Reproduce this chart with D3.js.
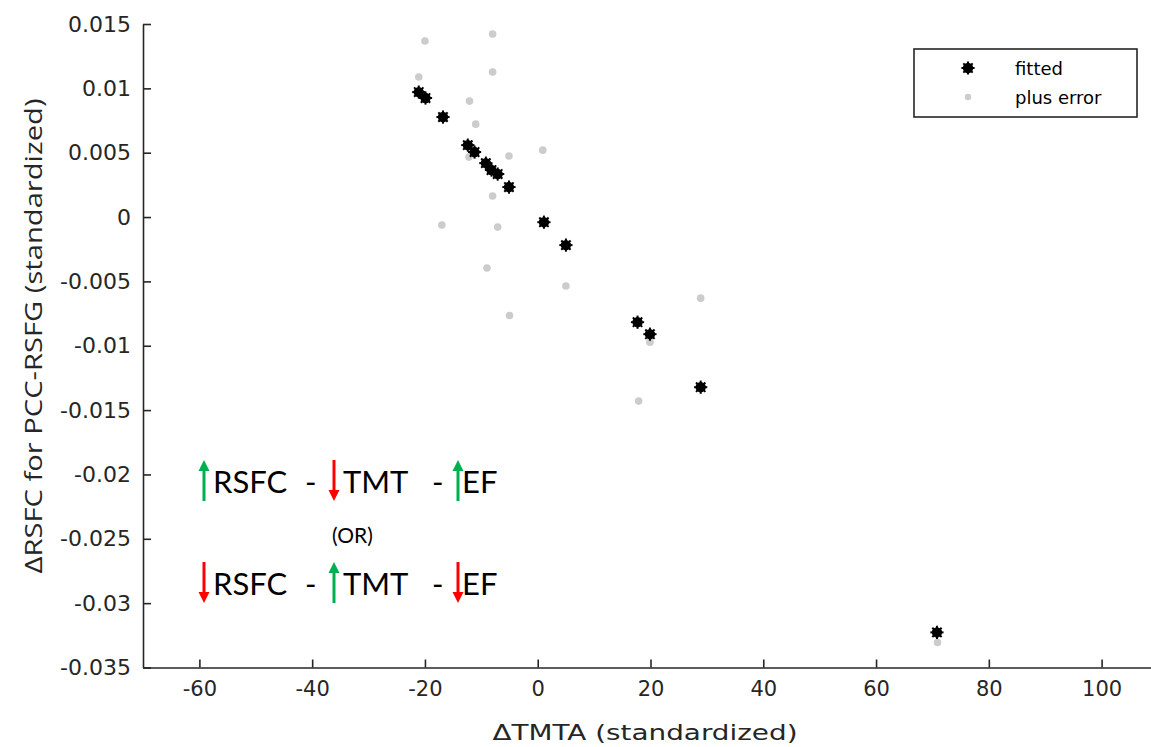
<!DOCTYPE html>
<html>
<head>
<meta charset="utf-8">
<script src="https://cdnjs.cloudflare.com/ajax/libs/d3/7.8.5/d3.min.js"></script>
<style>
  body { margin: 0; background: #fff; }
  svg { display: block; }
</style>
</head>
<body>
<div id="chart"></div>
<script>
// values
var fittedX = [-21.1, -19.9, -16.8, -12.4, -11.2, -9.2, -8.2, -7.1, -5.1, 1.1, 5.0, 17.7, 19.9, 28.9, 70.8];
var fittedY = [0.00971, 0.00925, 0.00777, 0.00559, 0.00505, 0.00419, 0.00365, 0.00334, 0.00233, -0.00040, -0.00218, -0.00817, -0.00910, -0.01322, -0.03227];
var errorX = [-21.1, -20.0, -12.1, -11.0, -12.2, -8.0, -8.0, -5.1, 0.9, -8.0, -17.0, -7.1, -9.0, 5.0, -5.0, 28.9, 19.9, 17.9, 70.9];
var errorY = [0.01088, 0.01368, 0.00901, 0.00722, 0.00466, 0.01422, 0.01127, 0.00474, 0.00520, 0.00163, -0.00062, -0.00078, -0.00396, -0.00536, -0.00765, -0.00630, -0.00972, -0.01430, -0.03306];
var xTicks = [-60, -40, -20, 0, 20, 40, 60, 80, 100];
var yTicks = [0.015, 0.01, 0.005, 0, -0.005, -0.01, -0.015, -0.02, -0.025, -0.03, -0.035];
var yTickLabels = ["0.015", "0.01", "0.005", "0", "-0.005", "-0.01", "-0.015", "-0.02", "-0.025", "-0.03", "-0.035"];
var legendLabels = ["fitted", "plus error"];

var W = 1151, H = 747;
var axisColor = "#262626";
var GREEN = "#00b050", RED = "#ff0000";

var svg = d3.select("#chart").append("svg")
    .attr("width", W)
    .attr("height", H);

svg.append("rect").attr("width", W).attr("height", H).attr("fill", "#fff");

let x = d3.scaleLinear()
    .domain([-70, 110])
    .range([143, 1158]);

let y = d3.scaleLinear()
    .domain([-0.035, 0.015])
    .range([667.5, 24]);

// points
var fitted = fittedX.map((d, i) => [d, fittedY[i]]);
var errors = errorX.map((d, i) => [d, errorY[i]]);

svg.append("g")
    .selectAll("circle")
    .data(errors)
    .join("circle")
    .attr("cx", d => x(d[0]))
    .attr("cy", d => y(d[1]))
    .attr("r", 3.8)
    .attr("fill", "#cccccc");

// black star-ish marker: disc + spokes
function starMarker(g){
    g.append("circle").attr("r", 5.2).attr("fill", "#000");
    for (var k = 0; k < 8; k++) {
        var a = k * Math.PI / 4;
        g.append("line")
            .attr("x1", 0).attr("y1", 0)
            .attr("x2", 6.6 * Math.cos(a)).attr("y2", 6.6 * Math.sin(a))
            .attr("stroke", "#000")
            .attr("stroke-width", 2);
    }
}

svg.append("g")
    .selectAll("g")
    .data(fitted)
    .join("g")
    .attr("transform", d => "translate(" + x(d[0]) + "," + y(d[1]) + ")")
    .each(function(){ starMarker(d3.select(this)); });

// axes (MATLAB style: ticks inside)
var xAxis = svg.append("g")
    .attr("transform", "translate(0," + y(-0.035) + ")")
    .call(d3.axisBottom(x).tickValues(xTicks).tickSizeInner(-8).tickSizeOuter(0).tickPadding(14)
        .tickFormat(d3.format("d")));
xAxis.select(".domain").attr("stroke", axisColor).attr("stroke-width", 1.6);
xAxis.selectAll(".tick line").attr("stroke", axisColor).attr("stroke-width", 1.6);
xAxis.selectAll(".tick text")
    .attr("fill", "#262626")
    .style("font-family", "DejaVu Sans")
    .style("font-size", "21px")
    .text(d => String(d).replace("−", "-"));

var yAxis = svg.append("g")
    .attr("transform", "translate(" + x(-70) + ",0)")
    .call(d3.axisLeft(y).tickValues(yTicks).tickSizeInner(-8).tickSizeOuter(0).tickPadding(12)
        .tickFormat((d, i) => yTickLabels[i]));
yAxis.select(".domain").attr("stroke", axisColor).attr("stroke-width", 1.6);
yAxis.selectAll(".tick line").attr("stroke", axisColor).attr("stroke-width", 1.6);
yAxis.selectAll(".tick text")
    .attr("fill", "#262626")
    .style("font-family", "DejaVu Sans")
    .style("font-size", "22px");

// axis titles
svg.append("text")
    .attr("x", 645)
    .attr("y", 740)
    .attr("text-anchor", "middle")
    .attr("fill", "#262626")
    .attr("textLength", 305)
    .attr("lengthAdjust", "spacingAndGlyphs")
    .style("font-family", "DejaVu Sans")
    .style("font-size", "22px")
    .text("\u0394TMTA (standardized)");

svg.append("text")
    .attr("transform", "translate(42,336) rotate(-90)")
    .attr("text-anchor", "middle")
    .attr("fill", "#262626")
    .attr("textLength", 475)
    .attr("lengthAdjust", "spacingAndGlyphs")
    .style("font-family", "Open Sans")
    .style("font-size", "24px")
    .text("\u0394RSFC for PCC-RSFG (standardized)");

// legend
var leg = svg.append("g");
leg.append("rect")
    .attr("x", 914).attr("y", 49)
    .attr("width", 223).attr("height", 68)
    .attr("fill", "#fff")
    .attr("stroke", axisColor)
    .attr("stroke-width", 1.6);
starMarker(leg.append("g").attr("transform", "translate(968,68)"));
leg.append("circle").attr("cx", 968).attr("cy", 97).attr("r", 3.2).attr("fill", "#cccccc");
leg.selectAll("text.lab")
    .data(legendLabels)
    .join("text")
    .attr("class", "lab")
    .attr("x", 1015)
    .attr("y", (d, i) => 75 + i * 29)
    .attr("fill", "#000")
    .style("font-family", "DejaVu Sans")
    .style("font-size", "18px")
    .text(d => d);

// annotation with arrows
function arrow(cx, up, color){
    var top = 460, bot = 501;
    var g = svg.append("g");
    var shaftStart = up ? bot : top, tip = up ? top : bot;
    var head = up ? tip + 11 : tip - 11;
    g.append("line")
        .attr("x1", cx).attr("x2", cx)
        .attr("y1", shaftStart).attr("y2", head)
        .attr("stroke", color).attr("stroke-width", 3);
    g.append("path")
        .attr("d", "M" + (cx - 5.5) + "," + head + "L" + cx + "," + tip + "L" + (cx + 5.5) + "," + head + "Z")
        .attr("fill", color);
    return g;
}

var rows = [
    { dy: 0, arrows: [[204, true, GREEN], [334, false, RED], [458, true, GREEN]] },
    { dy: 102, arrows: [[204, false, RED], [334, true, GREEN], [458, false, RED]] }
];
var words = [["RSFC", 213], ["-", 305], ["TMT", 343], ["-", 432], ["EF", 462]];

rows.forEach(r => {
    r.arrows.forEach(a => arrow(a[0], a[1], a[2]).attr("transform", "translate(0," + r.dy + ")"));
    words.forEach(w => {
        svg.append("text")
            .attr("x", w[1])
            .attr("y", 493 + r.dy)
            .attr("fill", "#000")
            .style("font-family", "Lato")
            .style("font-size", "31px")
            .text(w[0]);
    });
});

svg.append("text")
    .attr("x", 332)
    .attr("y", 543)
    .attr("fill", "#000")
    .style("font-family", "Lato")
    .style("font-size", "21px")
    .text("(OR)");
</script>
</body>
</html>
